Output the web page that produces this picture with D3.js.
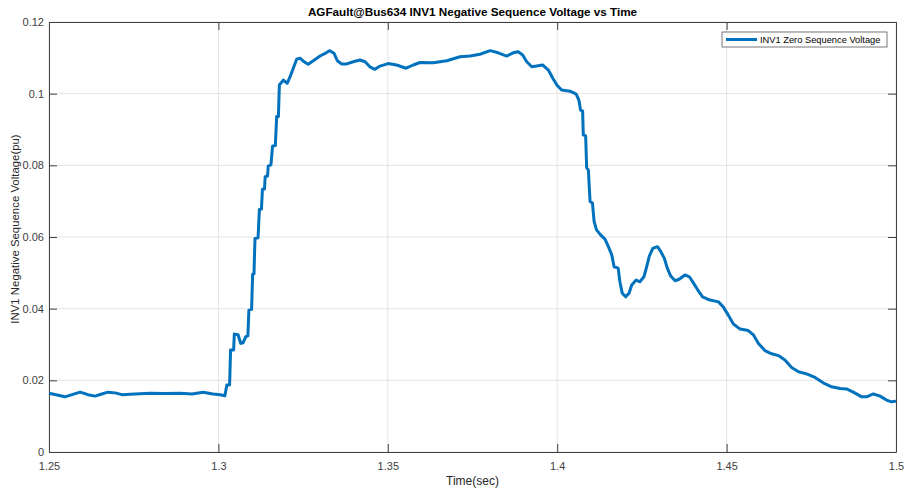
<!DOCTYPE html>
<html>
<head>
  <meta charset='utf-8'>
  <title>INV1 Negative Sequence Voltage vs Time</title>
  <script src="https://cdnjs.cloudflare.com/ajax/libs/d3/7.8.5/d3.min.js"></script>
  <style>
    html, body {
      margin: 0;
      padding: 0;
      background: #fff;
      font-family: 'Liberation Sans', Arial, sans-serif;
    }
    svg { display: block; }
    .grid line { stroke: #e3e3e3; stroke-width: 1; }
    .axis path, .axis line { stroke: #404040; }
    .axis text { fill: #404040; font-size: 11px; }
  </style>
</head>
<body>
  <svg id="chart"></svg>
  <script>
    // time (sec) and voltage (pu)
    const times = [
      1.25, 1.2524, 1.2547, 1.2568, 1.2592, 1.2615, 1.2636, 1.2656, 1.2674, 1.2695,
      1.2715, 1.2754, 1.2798, 1.2842, 1.2887, 1.2922, 1.2955, 1.2984, 1.3005, 1.3019,
      1.3025, 1.3033, 1.3036, 1.3045, 1.3047, 1.3058, 1.3066, 1.3073, 1.3081, 1.3087,
      1.309, 1.3098, 1.3101, 1.3105, 1.3108, 1.3117, 1.3121, 1.3127, 1.313, 1.3136,
      1.3138, 1.3145, 1.3147, 1.3155, 1.316, 1.3168, 1.3172, 1.3177, 1.318, 1.3192,
      1.3203, 1.3211, 1.3221, 1.3231, 1.3241, 1.3253, 1.3265, 1.328, 1.33, 1.3318,
      1.3329, 1.3341, 1.3351, 1.3364, 1.3379, 1.3398, 1.3418, 1.3433, 1.3447, 1.3462,
      1.3477, 1.3501, 1.3526, 1.3554, 1.3575, 1.3595, 1.3634, 1.3674, 1.3713, 1.3743,
      1.3772, 1.3802, 1.3826, 1.3851, 1.387, 1.3885, 1.3898, 1.391, 1.3925, 1.3939,
      1.3957, 1.3974, 1.3987, 1.3999, 1.4013, 1.4038, 1.4056, 1.4064, 1.4069, 1.4075,
      1.4077, 1.4084, 1.4087, 1.4092, 1.4097, 1.4104, 1.4109, 1.4116, 1.4128, 1.4141,
      1.4151, 1.4161, 1.4168, 1.418, 1.4185, 1.4192, 1.4202, 1.4212, 1.422, 1.4233,
      1.4244, 1.4256, 1.4264, 1.4272, 1.4282, 1.4296, 1.4306, 1.4316, 1.4325, 1.4335,
      1.4348, 1.436, 1.4377, 1.439, 1.4402, 1.4415, 1.4429, 1.4451, 1.4476, 1.449,
      1.4505, 1.452, 1.454, 1.4564, 1.4579, 1.4594, 1.4613, 1.4633, 1.4653, 1.4672,
      1.4692, 1.4712, 1.4736, 1.4761, 1.4785, 1.481, 1.4835, 1.4854, 1.4874, 1.4899,
      1.4913, 1.4933, 1.4953, 1.4972, 1.4987, 1.5
    ];
    const voltage = [
      .0164, .0159, .0154, .0160, .0167, .0160, .0156, .0162, .0167, .0165,
      .0160, .0162, .0164, .0163, .0164, .0162, .0167, .0162, .0160, .0157,
      .0187, .0187, .0285, .0285, .0329, .0327, .0303, .0305, .0322, .0324,
      .0396, .0398, .0496, .0497, .0596, .0598, .0677, .0678, .0733, .0734,
      .0768, .0770, .0798, .0801, .0854, .0855, .0936, .0936, .1024, .1038,
      .1029, .1046, .1071, .1096, .1099, .1089, .1082, .1092, .1105, .1114,
      .1120, .1113, .1092, .1083, .1083, .1089, .1094, .1089, .1075, .1068,
      .1077, .1084, .1080, .1071, .1080, .1087, .1086, .1092, .1103, .1105,
      .1110, .1120, .1114, .1105, .1114, .1117, .1108, .1089, .1075, .1077,
      .1080, .1066, .1043, .1024, .1010, .1007, .0999, .0982, .0954, .0952,
      .0885, .0882, .0793, .0787, .0699, .0695, .0643, .0620, .0606, .0594,
      .0573, .0550, .0517, .0513, .0475, .0443, .0433, .0443, .0466, .0480,
      .0475, .0489, .0517, .0547, .0568, .0573, .0559, .0541, .0513, .0491,
      .0478, .0482, .0494, .0489, .0472, .0452, .0433, .0424, .0419, .0405,
      .0382, .0357, .0343, .0339, .0327, .0303, .0283, .0274, .0269, .0257,
      .0236, .0224, .0218, .0208, .0193, .0182, .0177, .0176, .0167, .0154,
      .0154, .0162, .0156, .0145, .0140, .0142
    ];
    const xTicks = [1.25, 1.3, 1.35, 1.4, 1.45, 1.5];
    const yTicks = [0, 0.02, 0.04, 0.06, 0.08, 0.1, 0.12];
    const seriesName = "INV1 Zero Sequence Voltage";
    const titleText = "AGFault@Bus634 INV1 Negative Sequence Voltage vs Time";
    const xLabel = "Time(sec)";
    const yLabel = "INV1 Negative Sequence Voltage(pu)";

    const width = 907;
    const height = 491;
    const margin = { top: 22, right: 11, bottom: 39, left: 49 };
    const innerW = width - margin.left - margin.right;
    const innerH = height - margin.top - margin.bottom;
    const tickLen = 8;

    const svg = d3.select('#chart')
      .attr('width', width)
      .attr('height', height);

    const g = svg.append('g')
      .attr('transform', `translate(${margin.left},${margin.top})`);

    const x = d3.scaleLinear().domain([1.25, 1.5]).range([0, innerW]);
    const y = d3.scaleLinear().domain([0, 0.12]).range([innerH, 0]);

    // grid lines
    g.append('g').attr('class', 'grid')
      .selectAll('line').data(xTicks).join('line')
      .attr('x1', d => x(d)).attr('x2', d => x(d))
      .attr('y1', 0).attr('y2', innerH);
    g.append('g').attr('class', 'grid')
      .selectAll('line').data(yTicks).join('line')
      .attr('x1', 0).attr('x2', innerW)
      .attr('y1', d => y(d)).attr('y2', d => y(d));

    // axes, ticks pointing inward like matlab
    const fmt = d => String(d);
    g.append('g').attr('class', 'axis')
      .attr('transform', `translate(0,${innerH})`)
      .call(d3.axisBottom(x).tickValues(xTicks).tickFormat(fmt).tickSizeInner(-tickLen).tickSizeOuter(0).tickPadding(7));
    g.append('g').attr('class', 'axis')
      .call(d3.axisTop(x).tickValues(xTicks).tickFormat('').tickSizeInner(-tickLen).tickSizeOuter(0));
    g.append('g').attr('class', 'axis')
      .call(d3.axisLeft(y).tickValues(yTicks).tickFormat(fmt).tickSizeInner(-tickLen).tickSizeOuter(0).tickPadding(5));
    g.append('g').attr('class', 'axis')
      .attr('transform', `translate(${innerW},0)`)
      .call(d3.axisRight(y).tickValues(yTicks).tickFormat('').tickSizeInner(-tickLen).tickSizeOuter(0));

    g.selectAll('.axis text').attr('font-family', "'Liberation Sans', Arial, sans-serif");
    // bottom labels sit a bit lower
    g.selectAll('.axis').filter((d, i) => i === 0).selectAll('text').attr('y', 10);

    // data line
    const points = times.map((t, i) => ({ t, v: voltage[i] }));
    const line = d3.line().x(d => x(d.t)).y(d => y(d.v));
    g.append('path')
      .datum(points)
      .attr('fill', 'none')
      .attr('stroke', '#0072BD')
      .attr('stroke-width', 3)
      .attr('stroke-linejoin', 'round')
      .attr('d', line);

    // title and labels
    svg.append('text')
      .attr('x', margin.left + innerW / 2)
      .attr('y', 16)
      .attr('text-anchor', 'middle')
      .attr('font-size', 11.7)
      .attr('font-weight', 'bold')
      .attr('fill', '#000')
      .text(titleText);

    svg.append('text')
      .attr('x', margin.left + innerW / 2)
      .attr('y', 485)
      .attr('text-anchor', 'middle')
      .attr('font-size', 12)
      .attr('fill', '#262626')
      .text(xLabel);

    svg.append('text')
      .attr('transform', `translate(19,${margin.top + innerH / 2 - 8}) rotate(-90)`)
      .attr('text-anchor', 'middle')
      .attr('font-size', 11.4)
      .attr('fill', '#262626')
      .text(yLabel);

    // legend
    const legend = svg.append('g').attr('transform', 'translate(722,32)');
    legend.append('rect')
      .attr('width', 165).attr('height', 15)
      .attr('fill', '#fff').attr('stroke', '#555').attr('stroke-width', 0.8);
    legend.append('line')
      .attr('x1', 4).attr('x2', 35).attr('y1', 7.5).attr('y2', 7.5)
      .attr('stroke', '#0072BD').attr('stroke-width', 3);
    legend.append('text')
      .attr('x', 38).attr('y', 11)
      .attr('font-size', 9.3)
      .attr('fill', '#000')
      .text(seriesName);
  </script>
</body>
</html>
